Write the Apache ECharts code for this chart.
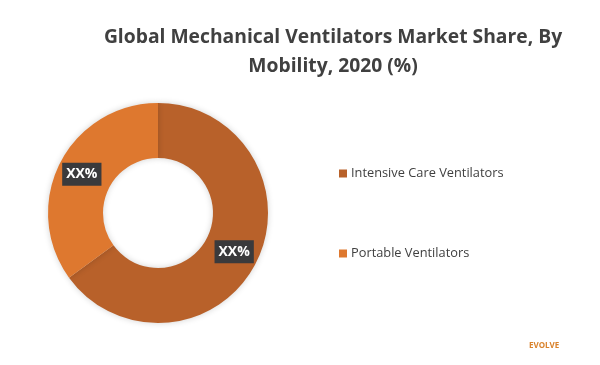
<!DOCTYPE html>
<html><head><meta charset="utf-8">
<script src="https://cdn.jsdelivr.net/npm/echarts@6/dist/echarts.min.js"></script>
<style>html,body{margin:0;padding:0;background:#fff}#c{width:600px;height:365px}</style>
</head><body><div id="c"></div>
<script>
const titleText = "Global Mechanical Ventilators Market Share, By\nMobility, 2020 (%)";
const categories = ["Intensive Care Ventilators", "Portable Ventilators"];
const shares = [65, 35];
const labels = ["XX%", "XX%"];
const colors = ["#B8612A", "#DE782F"];

const chart = echarts.init(document.getElementById('c'));
chart.setOption({
  animation: false,
  backgroundColor: '#fff',
  title: {
    text: titleText, left: 328, top: 18, textAlign: 'center',
    textStyle: {fontFamily: 'Open Sans', fontSize: 19.3, fontWeight: 'bold', color: '#404040', lineHeight: 29}
  },
  legend: {
    orient: 'vertical', left: 334, top: 162, itemGap: 67,
    itemWidth: 8, itemHeight: 8, icon: 'rect',
    textStyle: {fontFamily: 'Open Sans', fontSize: 12.8, color: '#404040', padding: [0,0,0,-1]},
    data: categories
  },
  graphic: [{
    type: 'text', left: 529, top: 342,
    style: {text: 'EVOLVE', fontFamily: 'Open Sans', fontSize: 8, fontWeight: 'bold', fill: '#D9822B'}
  }],
  series: [{
    type: 'pie', center: [158, 213], radius: [55, 110], startAngle: 90, clockwise: true,
    data: categories.map((n, i) => ({name: n, value: shares[i], itemStyle: {color: colors[i]}, label: {formatter: labels[i]}})),
    itemStyle: {shadowBlur: 6, shadowColor: 'rgba(0,0,0,0.18)'},
    label: {
      position: 'inside', color: '#fff', fontFamily: 'Open Sans', fontWeight: 'bold', fontSize: 14,
      backgroundColor: '#3A3A3C', padding: [5, 4, 4, 4]
    },
    labelLine: {show: false}, emphasis: {disabled: true}
  }]
});
</script></body></html>
